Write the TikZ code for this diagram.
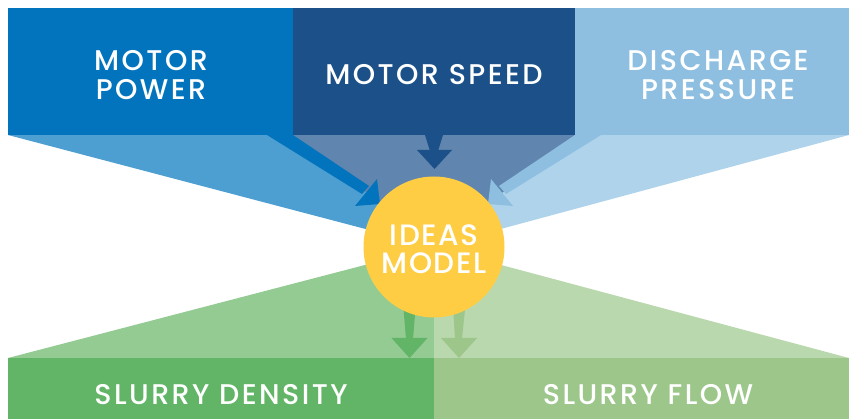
\documentclass[tikz,border=0pt]{standalone}
\usepackage{fontspec}
\newfontfamily\labelfont[LetterSpace=8.5]{Poppins Medium}
\newfontfamily\corefont[LetterSpace=5]{Poppins Medium}
\definecolor{cBoxA}{HTML}{0274BD}
\definecolor{cFunA}{HTML}{4E9FD1}
\definecolor{cBoxB}{HTML}{1B5089}
\definecolor{cFunB}{HTML}{6085AE}
\definecolor{cBoxC}{HTML}{8EBFE1}
\definecolor{cFunC}{HTML}{AED3EB}
\definecolor{cCore}{HTML}{FECD44}
\definecolor{cBoxD}{HTML}{62B466}
\definecolor{cFunD}{HTML}{93CB93}
\definecolor{cBoxE}{HTML}{9DC68A}
\definecolor{cFunE}{HTML}{BAD8AD}
\tikzset{
  lbl/.style={text=white, align=center, inner sep=0pt, font=\labelfont\fontsize{28.5}{29.5}\selectfont},
  boxnode/.style={inner sep=0pt, outer sep=0pt, minimum width=#1, minimum height=127pt},
  outbox/.style={inner sep=0pt, outer sep=0pt, minimum width=#1, minimum height=61pt},
}
\begin{document}
\begin{tikzpicture}[x=1pt,y=-1pt]
\useasboundingbox (0,0) rectangle (849,419);
% central model position
\coordinate (c) at (434,247);
% funnels
\fill[cFunA] (8,135) -- (293,135) -- (c) -- cycle;
\fill[cFunC] (575,135) -- (849,135) -- (c) -- cycle;
\fill[cFunB] (293,135) -- (575,135) -- (c) -- cycle;
\fill[cFunD] (8,358) -- (434,358) -- (c) -- cycle;
\fill[cFunE] (434,358) -- (849,358) -- (c) -- cycle;
% input boxes
\node[boxnode=285pt, fill=cBoxA, anchor=north west] (power) at (8,8) {};
\node[boxnode=282pt, fill=cBoxB, anchor=north west] (speed) at (293,8) {};
\node[boxnode=274pt, fill=cBoxC, anchor=north west] (press) at (575,8) {};
% output boxes
\node[outbox=426pt, fill=cBoxD, anchor=north west] (dens) at (8,358) {};
\node[outbox=415pt, fill=cBoxE, anchor=north west] (flow) at (434,358) {};
% arrows from inputs
\fill[cBoxA] (267,135) -- (293,135) -- (369,186) -- (362,194) -- cycle;
\fill[cBoxA] (377,179) -- (380,204) -- (355,206) -- cycle;
\fill[cBoxC] (601,135) -- (575,135) -- (499,186) -- (506,194) -- cycle;
\fill[cBoxC] (491,179) -- (488,204) -- (513,206) -- cycle;
\fill[cBoxB] (425,135) -- (443,135) -- (438,151) -- (430,151) -- cycle;
\fill[cBoxB] (417,150) -- (452,150) -- (434.5,169) -- cycle;
% arrows to outputs
\fill[cBoxD] (402,290) -- (417,290) -- (413,339) -- (406,339) -- cycle;
\fill[cBoxD] (391.5,338) -- (427.5,338) -- (409.5,358) -- cycle;
\fill[cBoxE] (452,290) -- (467,290) -- (462,339) -- (455,339) -- cycle;
\fill[cBoxE] (441,338) -- (477,338) -- (459,358) -- cycle;
% model
\node[circle, fill=cCore, minimum size=141pt, inner sep=0pt] (model) at (c) {};
% labels
\node[lbl] at (151,75) {MOTOR\\POWER};
\node[lbl] at (434,75) {MOTOR SPEED};
\node[lbl] at (718,75) {DISCHARGE\\PRESSURE};
\node[lbl, font=\corefont\fontsize{29.5}{28}\selectfont] at (434,249) {IDEAS\\MODEL};
\node[lbl] at (221,395) {SLURRY DENSITY};
\node[lbl] at (648,395) {SLURRY FLOW};
\end{tikzpicture}
\end{document}
